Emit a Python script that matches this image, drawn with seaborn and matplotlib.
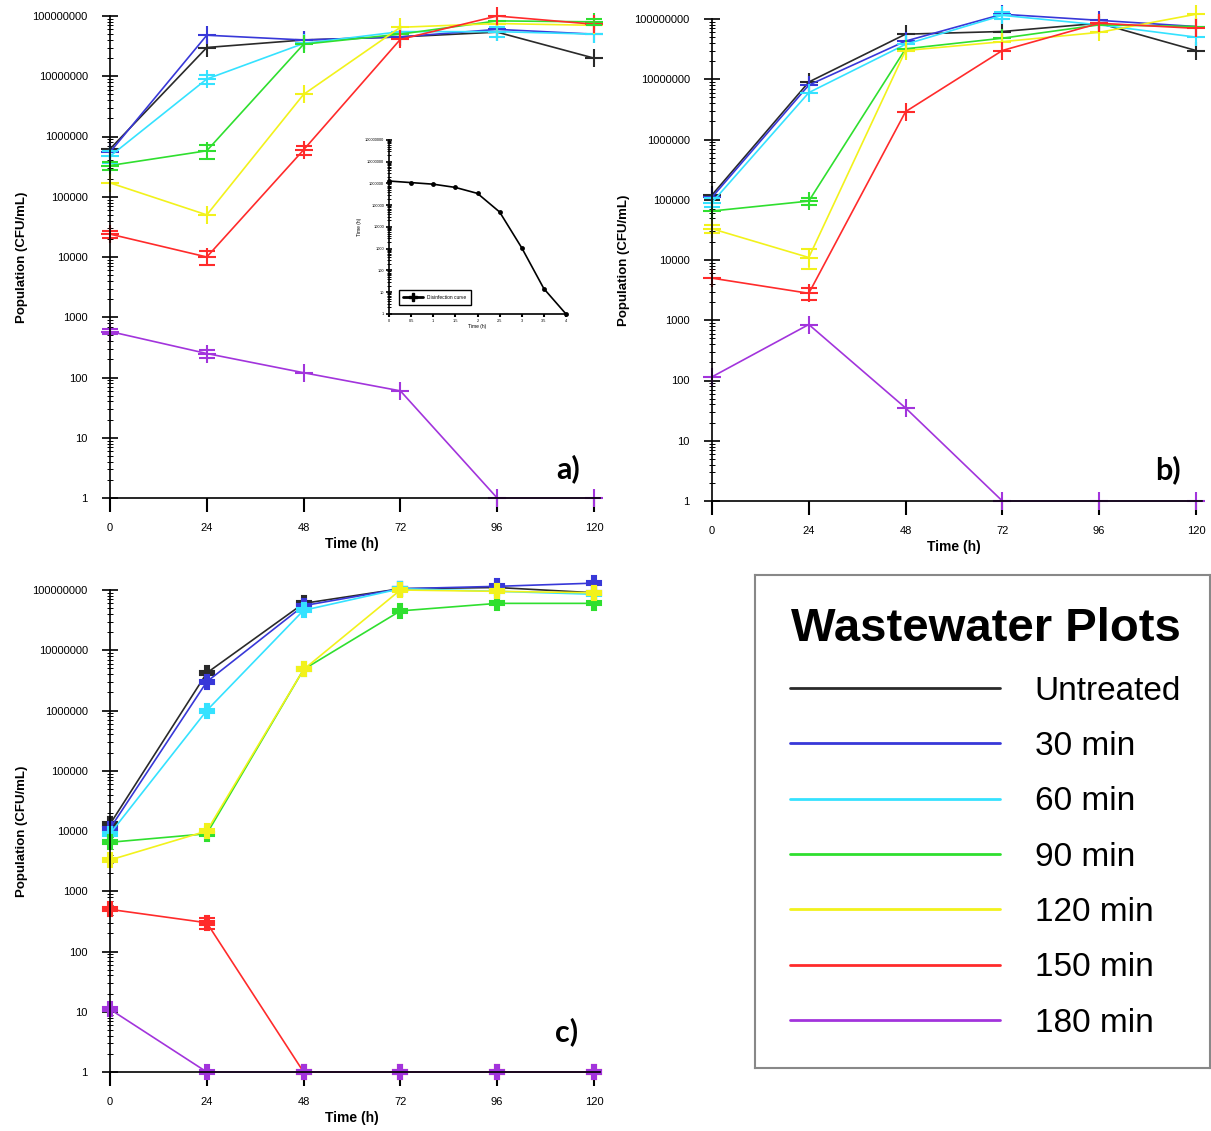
import numpy as np
import pandas as pd
import matplotlib
matplotlib.use('Agg')
import matplotlib.pyplot as plt
from matplotlib.lines import Line2D
from matplotlib.ticker import LogLocator, NullFormatter
import seaborn as sns

sns.set_style('ticks')
plt.rcParams['font.family'] = ['Liberation Sans', 'DejaVu Sans']
plt.rcParams['text.color'] = 'black'
plt.rcParams['axes.labelcolor'] = 'black'
plt.rcParams['xtick.color'] = 'black'
plt.rcParams['ytick.color'] = 'black'

times = [0, 24, 48, 72, 96, 120]
treatments = ['Untreated', '30 min', '60 min', '90 min', '120 min', '150 min', '180 min']
colors = ['#2a2a2a', '#3838d8', '#35e2ff', '#2fdf2f', '#f2f21c', '#ff2b2b', '#a234dc']

# population (CFU/mL), one row per treatment
pop_a = [
    [6.2e5, 3.0e7, 4.0e7, 4.5e7, 5.4e7, 2.0e7],
    [5.5e5, 4.8e7, 4.0e7, 4.5e7, 6.0e7, 5.0e7],
    [4.7e5, 9.0e6, 3.5e7, 5.5e7, 5.5e7, 5.0e7],
    [3.3e5, 5.8e5, 3.4e7, 5.0e7, 8.3e7, 8.0e7],
    [1.7e5, 5.0e4, 5.0e6, 6.5e7, 7.5e7, 7.0e7],
    [2.4e4, 1.0e4, 6.0e5, 4.1e7, 1.0e8, 7.3e7],
    [580, 250, 120, 60, 1, 1],
]
err_a = [
    [0, 0, 0, 0, 0, 0],
    [0, 0, 0, 0, 0, 0],
    [1.0e5, 1.5e6, 0, 0, 1.0e7, 0],
    [5.0e4, 1.5e5, 0, 0, 0, 1.0e7],
    [0, 0, 0, 0, 0, 0],
    [3.0e3, 2.5e3, 1.0e5, 0, 0, 0],
    [50, 40, 0, 0, 0, 0],
]

pop_b = [
    [1.2e5, 9.0e6, 5.6e7, 6.2e7, 8.5e7, 3.0e7],
    [1.1e5, 8.0e6, 4.3e7, 1.2e8, 9.5e7, 7.5e7],
    [9.0e4, 6.0e6, 3.8e7, 1.15e8, 8.0e7, 5.0e7],
    [6.5e4, 9.5e4, 3.2e7, 4.8e7, 8.0e7, 7.5e7],
    [3.3e4, 1.1e4, 3.0e7, 4.2e7, 6.0e7, 1.2e8],
    [5.0e3, 2.8e3, 2.9e6, 3.0e7, 8.5e7, 7.0e7],
    [115, 850, 35, 1, 1, 1],
]
err_b = [
    [0, 0, 0, 0, 0, 0],
    [0, 0, 0, 0, 0, 0],
    [1.5e4, 0, 0, 1.5e7, 0, 0],
    [0, 1.2e4, 0, 0, 0, 0],
    [5.0e3, 4.0e3, 0, 0, 0, 0],
    [0, 6.0e2, 0, 0, 0, 0],
    [0, 0, 0, 0, 0, 0],
]

pop_c = [
    [1.3e4, 4.2e6, 6.0e7, 1.05e8, 1.1e8, 9.0e7],
    [1.1e4, 3.0e6, 5.5e7, 1.05e8, 1.15e8, 1.3e8],
    [9.0e3, 1.0e6, 4.6e7, 1.05e8, 9.5e7, 8.5e7],
    [6.5e3, 9.0e3, 4.8e6, 4.5e7, 6.0e7, 6.0e7],
    [3.3e3, 1.0e4, 4.8e6, 1.0e8, 9.5e7, 9.0e7],
    [500, 300, 1, 1, 1, 1],
    [11, 1, 1, 1, 1, 1],
]
err_c = [
    [0, 0, 0, 0, 0, 0],
    [0, 0, 0, 0, 0, 0],
    [0, 0, 0, 0, 0, 0],
    [0, 0, 0, 0, 0, 0],
    [0, 0, 0, 0, 0, 0],
    [0, 60, 0, 0, 0, 0],
    [0, 0, 0, 0, 0, 0],
]

# disinfection curve (inset)
dis_time = [0, 0.5, 1, 1.5, 2, 2.5, 3, 3.5, 4]
dis_pop = [1.3e6, 1.1e6, 9.3e5, 6.6e5, 3.5e5, 4.9e4, 1.1e3, 14.6, 1]

decades = [10 ** k for k in range(9)]


def style_log_axis(ax, lab_size=8, major=12, minor=4, xtick_len=10, ypad=10, xpad=8):
    ax.set_yscale('log')
    ax.set_ylim(1, 1e8)
    ax.set_yticks(decades)
    ax.set_yticklabels([str(d) for d in decades])
    ax.yaxis.set_minor_locator(LogLocator(base=10, subs=np.arange(2, 10), numticks=100))
    ax.yaxis.set_minor_formatter(NullFormatter())
    sns.despine(ax=ax)
    for s in ['left', 'bottom']:
        ax.spines[s].set_linewidth(1.2)
        ax.spines[s].set_color('black')
    ax.tick_params(axis='y', which='major', direction='inout', length=major, width=1.2,
                   labelsize=lab_size, pad=ypad)
    ax.tick_params(axis='y', which='minor', direction='inout', length=minor, width=0.7)
    ax.tick_params(axis='x', which='major', direction='out', length=xtick_len, width=1.5,
                   labelsize=lab_size, pad=xpad)
    ax.grid(False)


def draw_panel(ax, pop, err, marker, ms):
    df = pd.DataFrame({
        'time': times * len(treatments),
        'treatment': np.repeat(treatments, len(times)),
        'pop': np.ravel(pop),
    })
    sns.lineplot(data=df, x='time', y='pop', hue='treatment', hue_order=treatments,
                 palette=colors, marker=marker, markersize=ms, markeredgewidth=1.5,
                 linewidth=1.2, legend=False, errorbar=None, ax=ax, clip_on=False)
    for line in ax.lines:
        line.set_markeredgecolor(line.get_color())
        line.set_markerfacecolor(line.get_color())
    for i, col in enumerate(colors):
        x = [t for t, e in zip(times, err[i]) if e > 0]
        y = [p for p, e in zip(pop[i], err[i]) if e > 0]
        e = [v for v in err[i] if v > 0]
        if x:
            ax.errorbar(x, y, yerr=e, fmt='none', ecolor=col, capsize=6,
                        elinewidth=1.2, capthick=1.5, clip_on=False)
    style_log_axis(ax)
    ax.set_xlim(0, 121.5)
    ax.set_xticks(times)
    ax.set_xlabel('Time (h)', fontsize=10, fontweight='bold')
    ax.set_ylabel('Population (CFU/mL)', fontsize=9.5, fontweight='bold')
    ax.yaxis.set_label_coords(-0.168, 0.5)
    ax.xaxis.set_label_coords(0.494, -0.081)


fig = plt.figure(figsize=(12.11, 11.31), dpi=100)
W, H = 1211, 1131
aw, ah = 490 / W, 482 / H

ax_a = fig.add_axes([110 / W, 1 - 498 / H, aw, ah])
ax_b = fig.add_axes([712 / W, 1 - 501 / H, aw, ah])
ax_c = fig.add_axes([110 / W, 1 - 1072 / H, aw, ah])

draw_panel(ax_a, pop_a, err_a, '+', 13)
draw_panel(ax_b, pop_b, err_b, '+', 13)
draw_panel(ax_c, pop_c, err_c, 'P', 10)

# inset with disinfection curve
ax_in = fig.add_axes([389 / W, 1 - 314 / H, 177 / W, 174 / H])
sns.lineplot(x=dis_time, y=dis_pop, ax=ax_in, color='black', linewidth=1.2,
             marker='o', markersize=3.5, markeredgewidth=0, clip_on=False)
style_log_axis(ax_in, lab_size=2.8, major=5, minor=2.5, xtick_len=2.5, ypad=1, xpad=1)
ax_in.set_xlim(0, 4)
ax_in.set_xticks(dis_time)
ax_in.set_xticklabels(['0', '0.5', '1', '1.5', '2', '2.5', '3', '3.5', '4'])
ax_in.set_xlabel('Time (h)', fontsize=3.5, labelpad=1)
ax_in.set_ylabel('Time (h)', fontsize=3.5, labelpad=2)
ax_in.legend(handles=[Line2D([0], [0], color='black', lw=2, marker='P', markersize=6)],
             labels=['Disinfection curve'], loc='lower left', bbox_to_anchor=(0.04, 0.04),
             fontsize=3.5, handlelength=4, fancybox=False, edgecolor='black',
             framealpha=1, borderpad=1.0)

fig.text(568 / W, 1 - 469 / H, 'a)', fontsize=22, fontweight='bold', family='Lato',
         ha='center', va='center')
fig.text(1168 / W, 1 - 470 / H, 'b)', fontsize=22, fontweight='bold', family='Lato',
         ha='center', va='center')
fig.text(567 / W, 1 - 1032 / H, 'c)', fontsize=22, fontweight='bold', family='Lato',
         ha='center', va='center')

# legend panel
ax_leg = fig.add_axes([755 / W, 1 - 1068 / H, 455 / W, 493 / H])
ax_leg.set_xticks([])
ax_leg.set_yticks([])
for s in ax_leg.spines.values():
    s.set_visible(True)
    s.set_color('#888888')
    s.set_linewidth(1.5)
handles = [Line2D([0], [0], color=c, lw=2) for c in colors]
leg = ax_leg.legend(handles, treatments, loc='upper left', bbox_to_anchor=(0.04, 0.968),
                    frameon=False, fontsize=24, handlelength=6.3, handletextpad=1.05,
                    labelspacing=0.73, borderpad=0, title='Wastewater Plots',
                    title_fontproperties={'size': 34, 'weight': 'bold'})

fig.savefig('out.png', dpi=100)
